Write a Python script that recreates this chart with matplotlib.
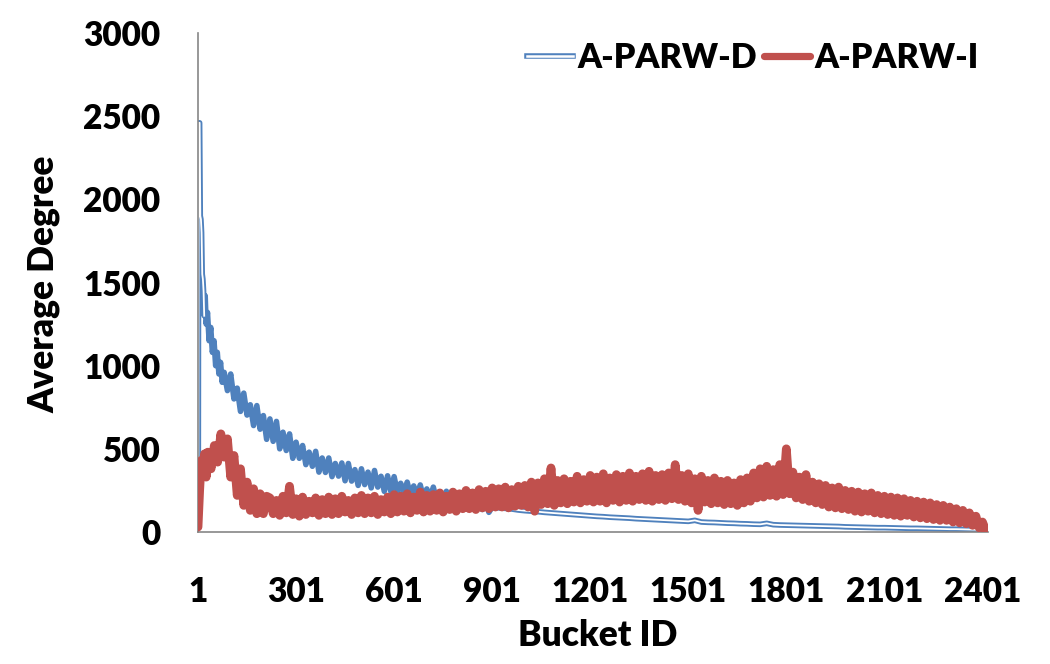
import matplotlib
matplotlib.use("Agg")
import matplotlib.pyplot as plt
import matplotlib.patheffects as pe
from matplotlib.lines import Line2D

# ---------------- data ----------------
series_names = ["A-PARW-D", "A-PARW-I"]
x_ticks = [1, 301, 601, 901, 1201, 1501, 1801, 2101, 2401]
y_ticks = [0, 500, 1000, 1500, 2000, 2500, 3000]

# A-PARW-D: initial spike
blue_head_buckets = [1, 2, 3, 6, 8, 10, 12, 14, 16, 18, 20, 23, 26, 30, 35, 40, 45,
                     50, 55, 60, 65, 70, 75, 81, 91]
blue_head_values = [300, 300, 2460, 2460, 1900, 1880, 1800, 1550, 1520, 1450, 1300,
                    1420, 1250, 1320, 1150, 1230, 1080, 1150, 1000, 1080, 950, 1020,
                    900, 960, 850]
# A-PARW-D: noisy decaying band (peaks / troughs)
blue_peak_buckets = list(range(101, 882, 20))
blue_peak_values = [950, 865, 835, 765, 760, 700, 680, 665, 600, 590,
                    540, 520, 480, 485, 445, 445, 412, 415, 412, 375,
                    380, 360, 370, 335, 338, 333, 293, 300, 277, 283,
                    259, 270, 240, 245, 220, 221, 202, 210, 188, 191]
blue_trough_buckets = list(range(111, 892, 20))
blue_trough_values = [800, 725, 703, 640, 618, 557, 545, 500, 490, 443,
                      443, 405, 395, 360, 358, 333, 336, 308, 306, 280,
                      285, 265, 270, 244, 243, 238, 239, 221, 222, 203,
                      205, 185, 185, 165, 165, 146, 148, 131, 135, 118]
# A-PARW-D: long tail
blue_tail_buckets = list(range(901, 2402, 20)) + [2416]
blue_tail_values = [150, 145, 142, 138, 132, 128, 125, 122, 118, 115,
                    112, 109, 106, 103, 100, 97, 94, 92, 89, 87,
                    85, 83, 80, 78, 76, 74, 72, 70, 68, 66,
                    64, 70, 60, 58, 57, 55, 53, 52, 50, 49,
                    47, 46, 52, 44, 42, 41, 40, 39, 38, 37,
                    36, 35, 34, 33, 31, 30, 29, 28, 27, 26,
                    26, 25, 24, 23, 22, 22, 21, 20, 19, 18,
                    17, 17, 16, 15, 14, 13,
                    8]

# A-PARW-I: early hump
red_head_buckets = [1, 6, 11, 16, 21, 26, 31, 41, 51, 61, 71, 81, 91, 101, 111, 121,
                    131, 141, 151, 161, 171, 181, 191, 201, 211]
red_head_values = [30, 250, 430, 380, 470, 330, 480, 380, 520, 420, 590, 450, 560,
                   330, 460, 220, 380, 160, 300, 130, 260, 110, 230, 110, 215]
# A-PARW-I: noisy band (peaks / troughs)
red_peak_buckets = list(range(221, 2402, 20))
red_peak_values = [205, 190, 215, 275, 200, 210, 185, 205, 195, 210,
                   200, 215, 190, 205, 220, 205, 215, 195, 210, 225,
                   215, 230, 210, 240, 220, 225, 235, 215, 240, 230,
                   250, 235, 255, 245, 265, 260, 270, 255, 275, 280,
                   300, 295, 320, 385, 310, 320, 305, 335, 315, 340,
                   330, 350, 325, 345, 335, 355, 335, 350, 365, 340,
                   345, 355, 405, 340, 350, 320, 335, 310, 325, 305,
                   310, 295, 315, 325, 355, 380, 395, 375, 405, 500,
                   360, 330, 345, 300, 290, 280, 265, 270, 250, 245,
                   240, 230, 235, 220, 215, 210, 205, 200, 190, 185,
                   180, 175, 165, 160, 150, 140, 130, 115, 95, 60]
red_trough_buckets = list(range(231, 2412, 20)) + [2416]
red_trough_values = [110, 100, 115, 105, 95, 105, 115, 100, 110, 105,
                     110, 120, 105, 115, 110, 115, 105, 120, 110, 120,
                     125, 115, 130, 120, 125, 130, 120, 135, 125, 140,
                     140, 135, 145, 140, 150, 150, 145, 155, 160, 150,
                     125, 165, 170, 160, 175, 170, 180, 175, 185, 180,
                     185, 175, 190, 180, 190, 185, 195, 190, 185, 195,
                     190, 200, 195, 185, 175, 130, 180, 170, 175, 165,
                     170, 160, 175, 185, 205, 210, 220, 215, 225, 230,
                     205, 195, 185, 175, 165, 150, 145, 140, 135, 125,
                     120, 125, 115, 110, 105, 100, 95, 100, 90, 85,
                     80, 75, 70, 70, 60, 55, 50, 40, 25, 10,
                     0]

# ---------------- assemble series (sorted by bucket) ----------------
blue_pts = sorted(zip(blue_head_buckets + blue_peak_buckets + blue_trough_buckets + blue_tail_buckets,
                      blue_head_values + blue_peak_values + blue_trough_values + blue_tail_values))
red_pts = sorted(zip(red_head_buckets + red_peak_buckets + red_trough_buckets,
                     red_head_values + red_peak_values + red_trough_values))
bx, by = zip(*blue_pts)
rx, ry = zip(*red_pts)

# ---------------- style ----------------
BLUE = "#4F81BD"
RED = "#C0504D"
AXIS_GRAY = "#868686"
FONT = ["Lato", "DejaVu Sans"]
FW = "heavy"
FS = 24          # tick labels
FS_TITLE = 25.5  # axis titles
FS_LEG = 24.5    # legend

plt.rcParams["font.family"] = FONT

fig = plt.figure(figsize=(10.5, 6.64), dpi=100)
ax = fig.add_axes([198 / 1050, 1 - 532 / 664, 790 / 1050, (532 - 33) / 664])

BLUE_LW = 4.0
WHITE_LW = 1.3
RED_LW = 6.3

ax.plot(bx, by, color=BLUE, lw=BLUE_LW, solid_joinstyle="round",
        solid_capstyle="round", zorder=2)
# white core of the compound line, visible where the line is sparse
ax.plot(blue_head_buckets[:11], blue_head_values[:11], color="white", lw=WHITE_LW,
        solid_joinstyle="round", zorder=2.1)
ax.plot(blue_tail_buckets, blue_tail_values, color="white", lw=WHITE_LW,
        solid_joinstyle="round", zorder=2.1)
ax.plot(rx, ry, color=RED, lw=RED_LW, solid_joinstyle="round",
        solid_capstyle="round", zorder=3)

ax.set_xlim(1, 2418)
ax.set_ylim(0, 3000)
ax.set_xticks(x_ticks)
ax.set_xticklabels([str(t) for t in x_ticks])
ax.set_yticks(y_ticks)
ax.set_yticklabels([str(t) for t in y_ticks])

for s in ["top", "right"]:
    ax.spines[s].set_visible(False)
for s in ["left", "bottom"]:
    ax.spines[s].set_color(AXIS_GRAY)
    ax.spines[s].set_linewidth(1.2)
ax.tick_params(axis="both", length=0, labelsize=FS, colors="black")
ax.tick_params(axis="y", pad=27)
ax.tick_params(axis="x", pad=32)
for lab in ax.get_xticklabels() + ax.get_yticklabels():
    lab.set_fontweight(FW)

fig.text(598 / 1050, 1 - 636 / 664, "Bucket ID", ha="center", va="center",
         fontsize=FS_TITLE, fontweight=FW)
fig.text(44 / 1050, 1 - 284 / 664, "Average Degree", ha="center", va="center",
         rotation=90, fontsize=FS_TITLE, fontweight=FW)

blue_handle = Line2D([], [], color=BLUE, lw=BLUE_LW,
                     path_effects=[pe.Stroke(linewidth=BLUE_LW, foreground=BLUE),
                                   pe.Stroke(linewidth=1.8, foreground="white")])
red_handle = Line2D([], [], color=RED, lw=5.2, solid_capstyle="round")
leg = ax.legend([blue_handle, red_handle], series_names,
                loc="center left", bbox_to_anchor=(527 / 1050, 1 - 58 / 664),
                bbox_transform=fig.transFigure, ncol=2, frameon=False,
                prop={"family": FONT, "size": FS_LEG, "weight": FW},
                handlelength=1.35, handletextpad=0.12,
                columnspacing=0.22, borderpad=0, borderaxespad=0)

fig.savefig("out.png", dpi=100)
